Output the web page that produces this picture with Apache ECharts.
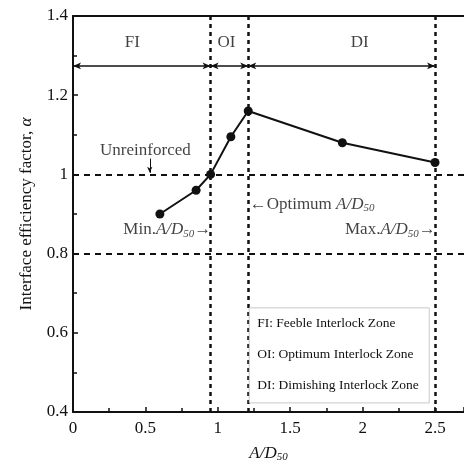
<!DOCTYPE html>
<html>
<head>
<meta charset="utf-8">
<script src="https://cdn.jsdelivr.net/npm/echarts@6/dist/echarts.min.js"></script>
<style>
  html, body { margin: 0; padding: 0; background: #fff; }
  #chart { width: 464px; height: 464px; }
</style>
</head>
<body>
<div id="chart"></div>
<script>
// measured points: A/D50 vs interface efficiency factor
const ratioAD = [0.6, 0.85, 0.95, 1.09, 1.21, 1.86, 2.5]
const alphaVals = [0.9, 0.96, 1.0, 1.095, 1.16, 1.08, 1.03]

// zone limits (min, optimum, max A/D50) and reference levels
const zoneBounds = [0.95, 1.21, 2.5]
const refLevels = [1.0, 0.8]
const zoneNames = ['FI', 'OI', 'DI']
const zoneArrowY = 1.274
const legendLines = ['FI: Feeble Interlock Zone', 'OI: Optimum Interlock Zone', 'DI: Dimishing Interlock Zone']

const FONT = '"Liberation Serif", "DejaVu Serif", serif'
const chart = echarts.init(document.getElementById('chart'))

const sub = { fontFamily: FONT, fontSize: 11, fontStyle: 'italic', verticalAlign: 'bottom', lineHeight: 19, color: '#111' }
const norm = { fontFamily: FONT, fontSize: 17, lineHeight: 19, color: '#111' }
const ital = { fontFamily: FONT, fontSize: 17, fontStyle: 'italic', lineHeight: 19, color: '#111' }

// zone arrows across the top
const zoneStarts = [0].concat(zoneBounds.slice(0, -1))
const arrowData = zoneBounds.map((b, i) => [
  { coord: [zoneStarts[i], zoneArrowY] },
  { coord: [b, zoneArrowY] }
])

function textPoint(x, y, text, pos) {
  return {
    value: [x, y],
    label: { show: true, position: pos, distance: 0, formatter: text, rich: { n: norm, i: ital, s: sub } }
  }
}

const annotations = [
  textPoint(0.41, 1.334, '{n|FI}', 'inside'),
  textPoint(1.06, 1.334, '{n|OI}', 'inside'),
  textPoint(1.98, 1.334, '{n|DI}', 'inside'),
  textPoint(0.5, 1.06, '{n|Unreinforced}', 'inside'),
  textPoint(1.22, 0.925, '{n|←Optimum }{i|A/D}{s|50}', 'right'),
  textPoint(0.955, 0.86, '{n|Min.}{i|A/D}{s|50}{n|→}', 'left'),
  textPoint(2.505, 0.86, '{n|Max.}{i|A/D}{s|50}{n|→}', 'left')
]

chart.setOption({
  animation: false,
  grid: { left: 73, right: 0, top: 16, bottom: 52, outerBoundsMode: 'none', containLabel: false },
  xAxis: [{
    type: 'value', min: 0, max: 2.7, interval: 0.5,
    name: '{i|A/D}{s|50}', nameLocation: 'middle', nameGap: 32,
    nameTextStyle: { rich: { i: ital, s: sub } },
    axisLine: { lineStyle: { color: '#111', width: 2 } },
    axisTick: { inside: true, length: 5, lineStyle: { color: '#111', width: 1.5 } },
    minorTick: { show: true, splitNumber: 2, length: 4, lineStyle: { color: '#111', width: 1.5 } },
    axisLabel: { showMaxLabel: false, color: '#111', fontFamily: FONT, fontSize: 17, margin: 8 },
    splitLine: { show: false }
  }, {
    type: 'value', min: 0, max: 2.7, position: 'top',
    axisLine: { lineStyle: { color: '#111', width: 2 } },
    axisTick: { show: false }, axisLabel: { show: false }, splitLine: { show: false }
  }],
  yAxis: {
    type: 'value', min: 0.4, max: 1.4, interval: 0.2,
    name: 'Interface efficiency factor, {i|α}', nameLocation: 'middle', nameGap: 37, nameRotate: 90,
    nameTextStyle: { fontFamily: FONT, fontSize: 17, color: '#111', rich: { i: ital } },
    axisLine: { lineStyle: { color: '#111', width: 2 } },
    axisTick: { inside: true, length: 5, lineStyle: { color: '#111', width: 1.5 } },
    minorTick: { show: true, splitNumber: 2, length: 4, lineStyle: { color: '#111', width: 1.5 } },
    axisLabel: { color: '#111', fontFamily: FONT, fontSize: 17, margin: 5 },
    splitLine: { show: false }
  },
  series: [
    {
      name: 'guides', type: 'line', data: [], silent: true,
      markLine: {
        silent: true, symbol: 'none', label: { show: false },
        data: zoneBounds.map(v => ({ xAxis: v, lineStyle: { type: [4, 4], width: 2.5, color: '#111' } }))
          .concat(refLevels.map(v => ({ yAxis: v, lineStyle: { type: [6, 5], width: 2, color: '#111' } })))
      }
    },
    {
      name: 'zones', type: 'line', data: [], silent: true,
      markLine: {
        silent: true, symbol: ['arrow', 'arrow'], symbolSize: [5, 8], label: { show: false },
        lineStyle: { type: 'solid', width: 1.5, color: '#111' },
        data: arrowData
      }
    },
    {
      name: 'unreinforced', type: 'line', data: [], silent: true,
      markLine: {
        silent: true, symbol: ['none', 'arrow'], symbolSize: [4, 6], label: { show: false },
        lineStyle: { type: 'solid', width: 1, color: '#111' },
        data: [[{ coord: [0.53, 1.04] }, { coord: [0.53, 1.004] }]]
      }
    },
    {
      name: 'alpha', type: 'line', data: ratioAD.map((x, i) => [x, alphaVals[i]]),
      symbol: 'circle', symbolSize: 9, z: 5,
      lineStyle: { color: '#111', width: 2 }, itemStyle: { color: '#111' }
    },
    {
      name: 'notes', type: 'scatter', data: annotations, symbolSize: 0, silent: true, z: 6
    }
  ]
})

// legend box in the lower right
const tl = chart.convertToPixel({ gridIndex: 0 }, [1.21, 0.663])
const br = chart.convertToPixel({ gridIndex: 0 }, [2.46, 0.423])
chart.setOption({
  graphic: [{
    type: 'rect', z: 10,
    shape: { x: tl[0] + 1, y: tl[1], width: br[0] - tl[0] - 1, height: br[1] - tl[1] },
    style: { fill: '#fff', stroke: '#bbb', lineWidth: 0.8 }
  }].concat(legendLines.map((t, i) => ({
    type: 'text', z: 11, left: tl[0] + 9, top: tl[1] + 9 + i * 31,
    style: { text: t, fontFamily: FONT, fontSize: 13.5, fill: '#111' }
  })))
})
</script>
</body>
</html>
